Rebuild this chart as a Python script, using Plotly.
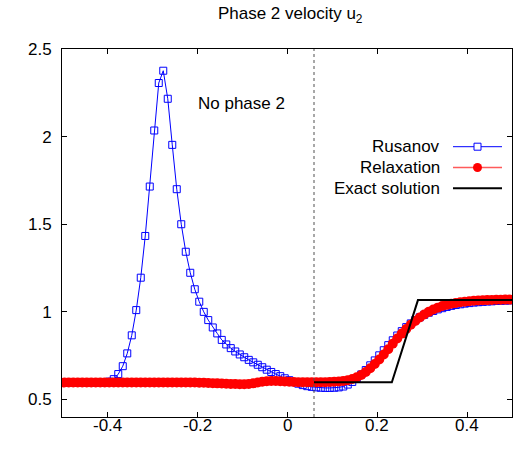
import plotly.graph_objects as go

# cell centres (100 cells on [-0.5, 0.5])
x_cells = [round(-0.495 + 0.01 * i, 3) for i in range(100)]

rusanov_u2 = [
    0.594, 0.594, 0.594, 0.594, 0.594, 0.594, 0.594, 0.594, 0.594, 0.596,
    0.602, 0.616, 0.645, 0.690, 0.763, 0.866, 1.010, 1.195, 1.433, 1.715,
    2.035, 2.306, 2.376, 2.216, 1.953, 1.700, 1.500, 1.343, 1.223, 1.129,
    1.058, 1.000, 0.953, 0.911, 0.877, 0.840, 0.814, 0.793, 0.774, 0.757,
    0.741, 0.726, 0.712, 0.698, 0.684, 0.670, 0.657, 0.645, 0.633, 0.621,
    0.610, 0.599, 0.590, 0.582, 0.576, 0.572, 0.569, 0.567, 0.566, 0.566,
    0.567, 0.569, 0.574, 0.585, 0.600, 0.620, 0.643, 0.668, 0.695, 0.723,
    0.752, 0.781, 0.810, 0.838, 0.865, 0.890, 0.913, 0.934, 0.953, 0.969,
    0.983, 0.995, 1.005, 1.014, 1.021, 1.028, 1.034, 1.039, 1.043, 1.047,
    1.050, 1.053, 1.055, 1.057, 1.059, 1.060, 1.062, 1.063, 1.064, 1.065,
]

relaxation_u2 = [
    0.597, 0.597, 0.597, 0.597, 0.597, 0.597, 0.597, 0.597, 0.597, 0.597,
    0.597, 0.597, 0.597, 0.597, 0.597, 0.597, 0.597, 0.597, 0.597, 0.597,
    0.597, 0.597, 0.597, 0.597, 0.597, 0.597, 0.597, 0.597, 0.597, 0.597,
    0.596, 0.595, 0.594, 0.593, 0.592, 0.591, 0.590, 0.589, 0.588, 0.587,
    0.587, 0.588, 0.592, 0.597, 0.601, 0.604, 0.605, 0.605, 0.604, 0.603,
    0.601, 0.600, 0.599, 0.598, 0.598, 0.598, 0.598, 0.598, 0.599, 0.600,
    0.601, 0.603, 0.606, 0.610, 0.617, 0.627, 0.640, 0.657, 0.678, 0.702,
    0.728, 0.757, 0.787, 0.818, 0.848, 0.876, 0.902, 0.926, 0.948, 0.968,
    0.985, 1.000, 1.013, 1.024, 1.033, 1.040, 1.046, 1.051, 1.055, 1.058,
    1.061, 1.063, 1.065, 1.066, 1.067, 1.068, 1.069, 1.069, 1.070, 1.070,
]

exact_x = [0.06, 0.233, 0.291, 0.5]
exact_u2 = [0.598, 0.598, 1.067, 1.067]

interface_x = 0.06

x_tickvals = [-0.4, -0.2, 0, 0.2, 0.4]
x_ticktext = ["-0.4", "-0.2", "0", "0.2", "0.4"]
y_tickvals = [0.5, 1, 1.5, 2, 2.5]
y_ticktext = ["0.5", "1", "1.5", "2", "2.5"]

legend_names = ["Rusanov", "Relaxation", "Exact solution"]

FONT = "Liberation Sans, Arial, Helvetica, sans-serif"

fig = go.Figure()
fig.add_trace(go.Scatter(
    x=x_cells, y=rusanov_u2, mode="lines+markers", name=legend_names[0],
    line=dict(color="#0000ff", width=1),
    marker=dict(symbol="square-open", size=7, color="#0000ff", line=dict(width=1)),
    showlegend=False))
fig.add_trace(go.Scatter(
    x=x_cells, y=relaxation_u2, mode="lines+markers", name=legend_names[1],
    line=dict(color="#ff5a5a", width=1),
    marker=dict(symbol="circle", size=10, color="#ff0000", line=dict(width=0)),
    showlegend=False))
fig.add_trace(go.Scatter(
    x=exact_x, y=exact_u2, mode="lines", name=legend_names[2],
    line=dict(color="#000000", width=2), showlegend=False))

# dashed interface line
fig.add_shape(type="line", xref="x", yref="paper", x0=interface_x, x1=interface_x,
              y0=0, y1=1, line=dict(color="#505050", width=1, dash="3px,3px"))

# manual legend (text left, key right as in gnuplot)
W, H = 450.0, 368.0
def px(xp):
    return (xp - 62) / W
def py(yp):
    return (417 - yp) / H

rows_y = [146.7, 167.5, 188.3]
key_x0, key_x1 = 453, 502
for name, yy in zip(legend_names, rows_y):
    fig.add_annotation(x=px(442), y=py(yy), xref="paper", yref="paper",
                       text=name, showarrow=False, xanchor="right", yanchor="middle",
                       font=dict(family=FONT, size=17, color="black"))
# Rusanov key
fig.add_shape(type="line", xref="paper", yref="paper", x0=px(key_x0), x1=px(key_x1),
              y0=py(rows_y[0]), y1=py(rows_y[0]), line=dict(color="#0000ff", width=1))
fig.add_shape(type="rect", xref="paper", yref="paper",
              x0=px(477.5 - 3.5), x1=px(477.5 + 3.5),
              y0=py(rows_y[0] + 3.5), y1=py(rows_y[0] - 3.5),
              line=dict(color="#0000ff", width=1), fillcolor="white")
# Relaxation key
fig.add_shape(type="line", xref="paper", yref="paper", x0=px(key_x0), x1=px(key_x1),
              y0=py(rows_y[1]), y1=py(rows_y[1]), line=dict(color="#ff5a5a", width=1.5))
fig.add_shape(type="circle", xref="paper", yref="paper",
              x0=px(477.5 - 4.5), x1=px(477.5 + 4.5),
              y0=py(rows_y[1] + 4.5), y1=py(rows_y[1] - 4.5),
              line=dict(color="#ff0000", width=0), fillcolor="#ff0000")
# Exact key
fig.add_shape(type="line", xref="paper", yref="paper", x0=px(key_x0), x1=px(key_x1),
              y0=py(rows_y[2]), y1=py(rows_y[2]), line=dict(color="#000000", width=2))

fig.add_annotation(x=-0.102, y=2.19, xref="x", yref="y", text="No phase 2",
                   showarrow=False, font=dict(family=FONT, size=17, color="black"))

# x tick labels placed close to the axis (gnuplot style)
for tv, tt in zip(x_tickvals, x_ticktext):
    fig.add_annotation(x=tv, y=py(425.5), xref="x", yref="paper", text=tt,
                       showarrow=False, xanchor="center", yanchor="middle",
                       font=dict(family=FONT, size=17, color="black"))

axis_common = dict(showline=True, linecolor="black", linewidth=1, mirror="ticks",
                   ticks="inside", ticklen=5, tickcolor="black", showgrid=False,
                   zeroline=False, tickfont=dict(family=FONT, size=17, color="black"))

fig.update_xaxes(range=[-0.5, 0.5], tickvals=x_tickvals, showticklabels=False,
                 **axis_common)
fig.update_yaxes(range=[0.4, 2.5], tickvals=y_tickvals, ticktext=y_ticktext,
                 ticklabelstandoff=6, **axis_common)

fig.update_layout(
    width=521, height=451,
    margin=dict(l=62, r=9, t=49, b=34),
    paper_bgcolor="white", plot_bgcolor="white",
    title=dict(text="Phase 2 velocity u<sub>2</sub>", x=0.557, xanchor="center",
               y=0.97, yanchor="middle",
               font=dict(family=FONT, size=17, color="black")),
)

fig.write_html("out.html")
